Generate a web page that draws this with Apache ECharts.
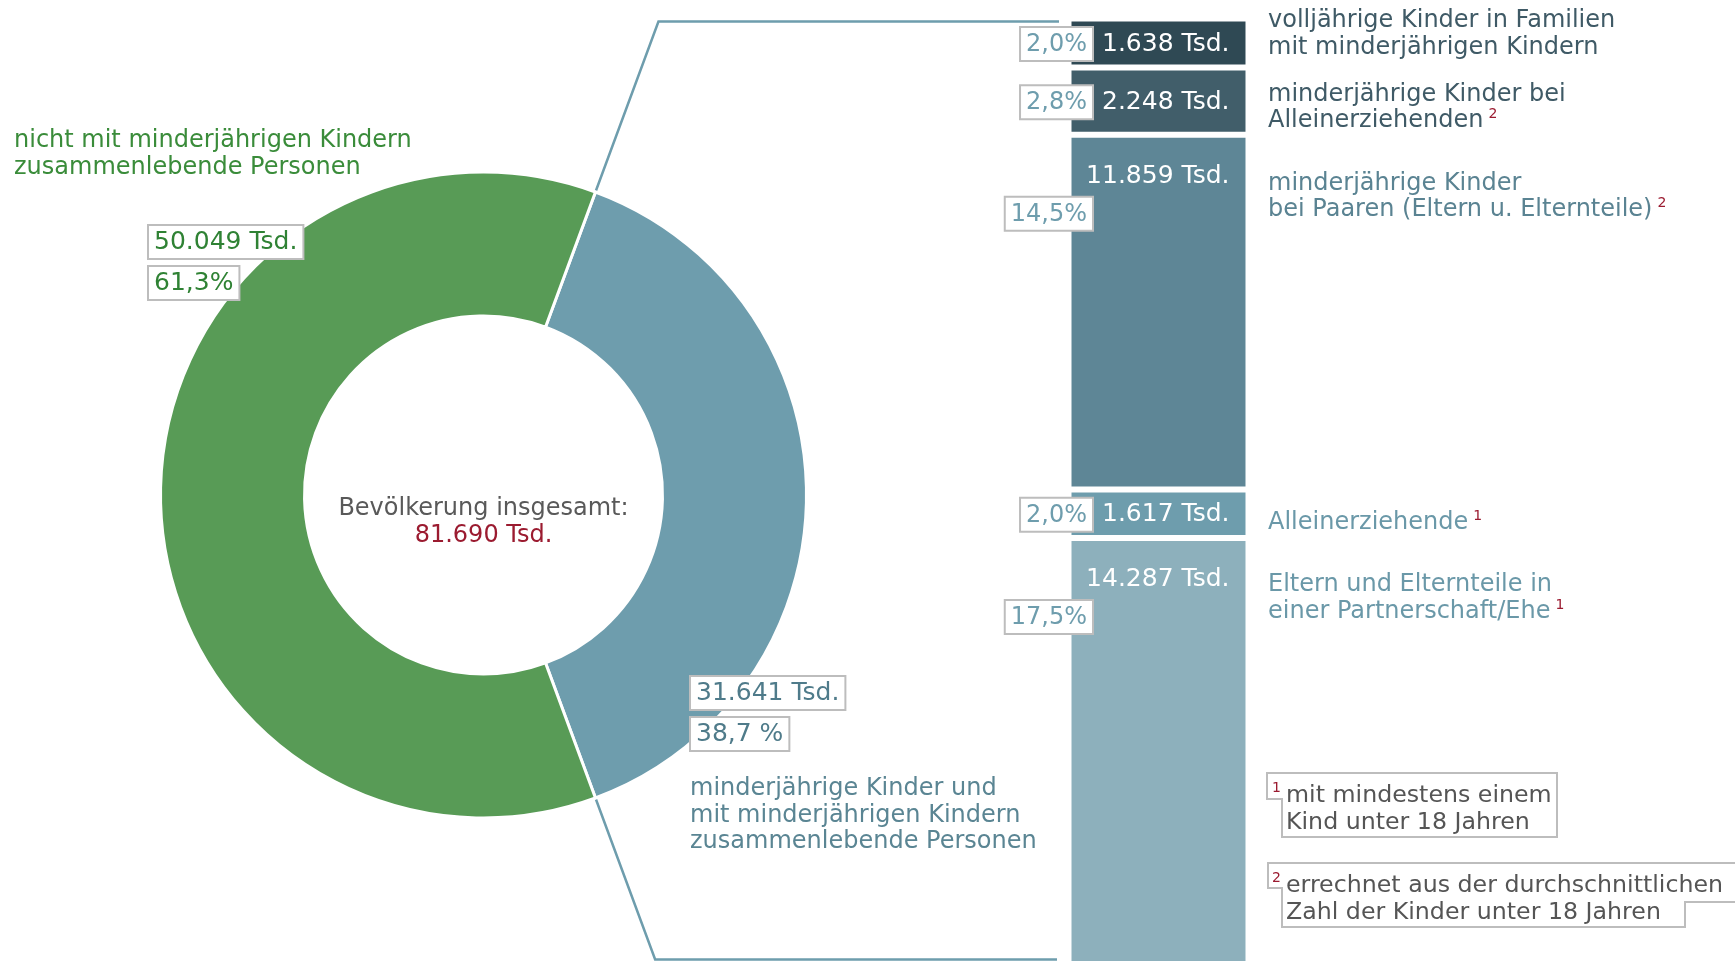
<!DOCTYPE html>
<html>
<head>
<meta charset="utf-8">
<script src="https://cdn.jsdelivr.net/npm/echarts@6/dist/echarts.min.js"></script>
<style>
html, body { margin: 0; padding: 0; background: #fff; }
#main { width: 1735px; height: 961px; }
</style>
</head>
<body>
<div id="main"></div>
<script>
// Bevölkerung nach Lebensform (Tsd.)
var totalValue = 81690;
var pieValues = [31641, 50049];
var pieColors = ['#6e9dad', '#589b56'];

var barValues = [1638, 2248, 11859, 1617, 14287];
var barColors = ['#2f4954', '#415e6a', '#5e8696', '#6e9dad', '#8db0bc'];
var barTextColors = ['#3f5a66', '#3f5a66', '#5a8392', '#6a98a8', '#6a98a8'];
var barLabelLines = [
    ['volljährige Kinder in Familien', 'mit minderjährigen Kindern'],
    ['minderjährige Kinder bei', 'Alleinerziehenden'],
    ['minderjährige Kinder', 'bei Paaren (Eltern u. Elternteile)'],
    ['Alleinerziehende'],
    ['Eltern und Elternteile in', 'einer Partnerschaft/Ehe']
];
var barFootnoteMarks = ['', '2', '2', '1', '1'];
var footnotes = [
    ['mit mindestens einem', 'Kind unter 18 Jahren'],
    ['errechnet aus der durchschnittlichen', 'Zahl der Kinder unter 18 Jahren']
];

var FONT = '"DejaVu Sans", sans-serif';
var RED = '#9b1b30';
var LINE = '#6e9dad';

function fmt(v) {
    return String(v).replace(/\B(?=(\d{3})+(?!\d))/g, '.');
}
function pct(v) {
    return (v / totalValue * 100).toFixed(1).replace('.', ',');
}

var barSum = 0;
barValues.forEach(function (v) { barSum += v; });

var cx = 483.5, cy = 495, rIn = 179, rOut = 323;
var startAngle = 180 * pieValues[0] / totalValue;

var barSeries = barValues.map(function (v, i) {
    var big = v > 5000;
    return {
        type: 'bar',
        stack: 'kinder',
        barWidth: '100%',
        barCategoryGap: '0%',
        data: [v],
        itemStyle: { color: barColors[i], borderColor: '#fff', borderWidth: 3 },
        label: {
            show: true,
            position: big ? 'insideTopRight' : 'insideRight',
            distance: 19,
            offset: big ? [0, 10] : [0, 1],
            formatter: fmt(v) + ' Tsd.',
            color: '#fff',
            fontSize: 25,
            fontFamily: FONT
        },
        silent: true
    };
});

var option = {
    animation: false,
    grid: { left: 1068.5, top: 18.5, width: 180, height: 947, outerBoundsMode: 'none' },
    xAxis: { type: 'category', data: [''], show: false },
    yAxis: { type: 'value', inverse: true, min: 0, max: barSum, show: false },
    series: [{
        type: 'pie',
        center: [cx, cy],
        radius: [rIn, rOut],
        startAngle: startAngle,
        clockwise: true,
        silent: true,
        label: { show: false },
        labelLine: { show: false },
        itemStyle: { borderColor: '#fff', borderWidth: 3 },
        data: pieValues.map(function (v, i) {
            return { value: v, itemStyle: { color: pieColors[i] } };
        })
    }].concat(barSeries)
};

var myChart = echarts.init(document.getElementById('main'));
myChart.setOption(option);

// zusätzliche Beschriftungen
var g = [];

// Verbindungslinien vom Ring zur Säule
var a = startAngle * Math.PI / 180;
var yTop = 21.5, yBot = 959.5;
var px = cx + rOut * Math.cos(a), py = rOut * Math.sin(a);
var tanA = Math.cos(a) / Math.sin(a);
g.push({ type: 'polyline', z: 0, shape: { points: [[px, cy - py], [cx + (cy - yTop) * tanA, yTop], [1059, yTop]] }, style: { stroke: LINE, lineWidth: 2.5, fill: null } });
g.push({ type: 'polyline', z: 0, shape: { points: [[px, cy + py], [cx + (yBot - cy) * tanA, yBot], [1057, yBot]] }, style: { stroke: LINE, lineWidth: 2.5, fill: null } });

function boxText(x, y, text, color, size, align) {
    return {
        type: 'text', z: 10, x: x, y: y,
        style: {
            text: text, fill: color, font: size + 'px ' + FONT,
            align: align || 'left', verticalAlign: 'top',
            backgroundColor: '#fff', borderColor: '#bdbdbd', borderWidth: 2,
            padding: [3, 5, 2, 5], lineHeight: 27
        }
    };
}

// Ring-Beschriftungen
g.push({ type: 'text', x: 14, y: 127, style: { text: 'nicht mit minderjährigen Kindern\nzusammenlebende Personen', fill: '#3a8c3a', font: '24px ' + FONT, verticalAlign: 'top', lineHeight: 27 } });
g.push(boxText(149, 226, fmt(pieValues[1]) + ' Tsd.', '#2f8234', 25));
g.push(boxText(149, 267, pct(pieValues[1]) + '%', '#2f8234', 25));
g.push(boxText(691, 677, fmt(pieValues[0]) + ' Tsd.', '#4f7b8a', 25));
g.push(boxText(691, 718, pct(pieValues[0]) + ' %', '#4f7b8a', 25));
g.push({ type: 'text', x: 690, y: 776, style: { text: 'minderjährige Kinder und\nmit minderjährigen Kindern\nzusammenlebende Personen', fill: '#5a8593', font: '24px ' + FONT, verticalAlign: 'top', lineHeight: 26.5 } });

// Mitte
g.push({ type: 'text', x: cx, y: 508.5, style: { text: 'Bevölkerung insgesamt:', fill: '#595959', font: '24px ' + FONT, align: 'center', verticalAlign: 'middle' } });
g.push({ type: 'text', x: cx, y: 536, style: { text: fmt(totalValue) + ' Tsd.', fill: RED, font: '24px ' + FONT, align: 'center', verticalAlign: 'middle' } });

// Säulen: Prozentkästen und Beschriftungen rechts
var labelY = [21, 94.5, 183.5, 523, 585];
var cum = 0;
barValues.forEach(function (v, i) {
    var y0 = myChart.convertToPixel({ yAxisIndex: 0 }, cum);
    var y1 = myChart.convertToPixel({ yAxisIndex: 0 }, cum + v);
    cum += v;
    var big = (y1 - y0) > 100;
    var mid = big ? y0 + 79 : (y0 + y1) / 2 + 1;
    g.push(boxText(1092, mid - 16, pct(v) + '%', '#6e9dad', 24, 'right'));

    var lines = barLabelLines[i].map(function (l) { return '{t|' + l + '}'; });
    if (barFootnoteMarks[i]) {
        lines[lines.length - 1] += '{s|' + barFootnoteMarks[i] + '}';
    }
    g.push({
        type: 'text', x: 1268, y: labelY[i] - 13.25,
        style: {
            text: lines.join('\n'),
            verticalAlign: 'top',
            rich: {
                t: { fill: barTextColors[i], font: '24px ' + FONT, lineHeight: 26.5 },
                s: { fill: RED, font: '14px ' + FONT, lineHeight: 26.5, verticalAlign: 'top', padding: [0, 0, 0, 5] }
            }
        }
    });
});

// Fußnoten
g.push({ type: 'polygon', z: 5, shape: { points: [[1267, 773], [1557, 773], [1557, 837], [1282, 837], [1282, 799], [1267, 799]] }, style: { fill: '#fff', stroke: '#bdbdbd', lineWidth: 2 } });
g.push({ type: 'polygon', z: 5, shape: { points: [[1268, 863], [1745, 863], [1745, 902], [1685, 902], [1685, 927], [1282, 927], [1282, 888], [1268, 888]] }, style: { fill: '#fff', stroke: '#bdbdbd', lineWidth: 2 } });
footnotes.forEach(function (lines, i) {
    var top = i === 0 ? 781 : 871;
    g.push({ type: 'text', z: 6, x: 1272, y: top, style: { text: String(i + 1), fill: RED, font: '14px ' + FONT, verticalAlign: 'top' } });
    g.push({ type: 'text', z: 6, x: 1286, y: top + 1, style: { text: lines.join('\n'), fill: '#555', font: '23.7px ' + FONT, verticalAlign: 'top', lineHeight: 27 } });
});

myChart.setOption({ graphic: { elements: g } });
</script>
</body>
</html>
